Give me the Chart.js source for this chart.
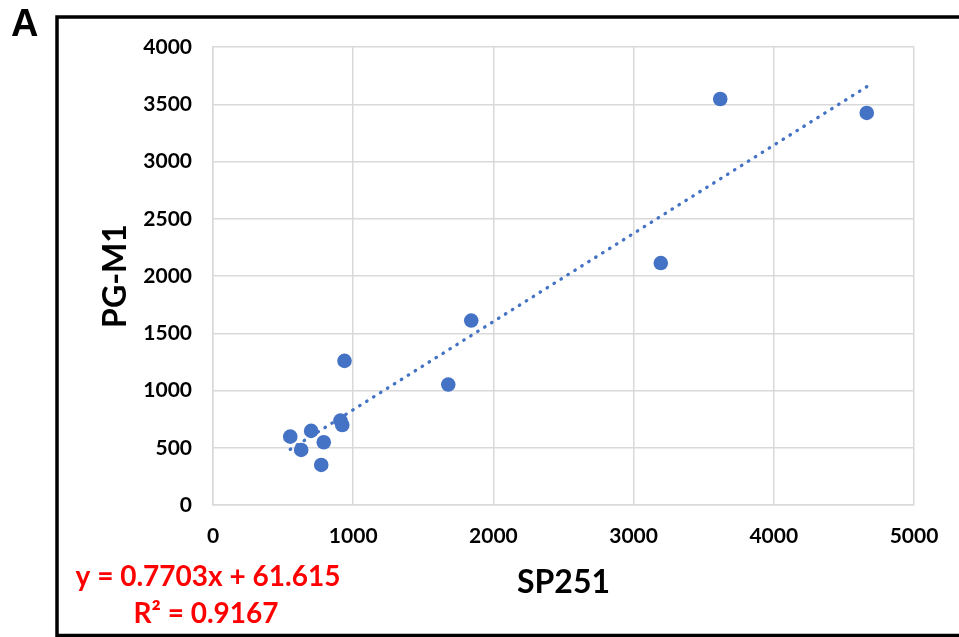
<!DOCTYPE html>
<html>
<head>
<meta charset="utf-8">
<title>PG-M1 vs SP251</title>
<script src="https://cdn.jsdelivr.net/npm/chart.js@4/dist/chart.umd.min.js"></script>
<style>
    html, body { margin: 0; padding: 0; background: #ffffff; }
    #wrap { width: 959px; height: 637px; position: relative; }
</style>
</head>
<body>
<div id="wrap"><canvas id="chart"></canvas></div>
<script>
// Data
const sp251 = [3618, 4663, 3194, 1842, 1678, 938, 909, 922, 700, 551, 629, 790, 772];
const pgM1 = [3546, 3424, 2113, 1611, 1052, 1259, 737, 699, 647, 597, 481, 548, 350];

// Linear trendline end points (as drawn in the picture)
const trendX = [551, 4663];
const trendY = [486, 3653];

const xTicks = [0, 1000, 2000, 3000, 4000, 5000];
const yTicks = [0, 500, 1000, 1500, 2000, 2500, 3000, 3500, 4000];

const equationText = 'y = 0.7703x + 61.615';
const r2Text = 'R² = 0.9167';
const panelLabel = 'A';

const blue = '#4472C4';
const gridColor = '#d9d9d9';
const fontFamily = 'Lato, "Open Sans", sans-serif';

// Frame, panel letter and regression text
const annotations = {
    id: 'annotations',
    afterDraw(chart) {
        const ctx = chart.ctx;
        ctx.save();

        // black frame, right side runs off the picture
        ctx.strokeStyle = '#000000';
        ctx.lineWidth = 3.5;
        ctx.beginPath();
        ctx.moveTo(965, 17);
        ctx.lineTo(57, 17);
        ctx.lineTo(57, 635.5);
        ctx.lineTo(965, 635.5);
        ctx.stroke();

        // panel letter
        ctx.fillStyle = '#000000';
        ctx.font = 'bold 38px "Liberation Sans", Arial, sans-serif';
        ctx.textAlign = 'left';
        ctx.textBaseline = 'alphabetic';
        ctx.fillText(panelLabel, 11, 36);

        // regression equation
        ctx.fillStyle = '#ff0000';
        ctx.font = 'bold 28px ' + fontFamily;
        ctx.textAlign = 'center';
        ctx.fillText(equationText, 208, 586);
        ctx.fillText(r2Text, 206, 623);

        ctx.restore();
    }
};

const tickFont = { family: fontFamily, size: 21, weight: 'bold' };
const titleFont = { family: fontFamily, size: 32, weight: 'bold', lineHeight: 1.2 };

const ctx = document.getElementById('chart').getContext('2d');

new Chart(ctx, {
    type: 'scatter',
    data: {
        datasets: [{
            type: 'line',
            label: 'Linear (PG-M1)',
            data: trendX.map((x, i) => ({ x: x, y: trendY[i] })),
            borderColor: blue,
            borderWidth: 3.3,
            borderDash: [0.5, 7.7],
            borderCapStyle: 'round',
            pointRadius: 0,
            fill: false,
            tension: 0
        }, {
            label: 'PG-M1',
            data: sp251.map((x, i) => ({ x: x, y: pgM1[i] })),
            backgroundColor: blue,
            borderColor: blue,
            borderWidth: 0,
            pointRadius: 7.3,
            pointHoverRadius: 7.3
        }]
    },
    options: {
        responsive: true,
        maintainAspectRatio: false,
        animation: false,
        events: [],
        layout: {
            padding: { left: 60, top: 47, right: 45, bottom: 0 }
        },
        plugins: {
            legend: { display: false },
            tooltip: { enabled: false }
        },
        scales: {
            x: {
                type: 'linear',
                min: xTicks[0],
                max: xTicks[xTicks.length - 1],
                afterBuildTicks: function(scale) {
                    scale.ticks = xTicks.map(v => ({ value: v }));
                },
                afterFit: function(scale) {
                    scale.height = 132;
                },
                grid: {
                    color: gridColor,
                    lineWidth: 1.5,
                    drawTicks: false
                },
                border: { color: gridColor, width: 1.5 },
                ticks: {
                    padding: 19,
                    color: '#000000',
                    font: tickFont,
                    callback: function(value) {
                        return String(value);
                    }
                },
                title: {
                    display: true,
                    text: 'SP251',
                    color: '#000000',
                    font: titleFont,
                    padding: { top: 0, bottom: 35 }
                }
            },
            y: {
                type: 'linear',
                min: yTicks[0],
                max: yTicks[yTicks.length - 1],
                afterBuildTicks: function(scale) {
                    scale.ticks = yTicks.map(v => ({ value: v }));
                },
                afterFit: function(scale) {
                    scale.width = 153;
                },
                grid: {
                    color: gridColor,
                    lineWidth: 1.5,
                    drawTicks: false
                },
                border: { color: gridColor, width: 1.5 },
                ticks: {
                    padding: 21,
                    color: '#000000',
                    font: tickFont,
                    callback: function(value) {
                        return String(value);
                    }
                },
                title: {
                    display: true,
                    text: 'PG-M1',
                    color: '#000000',
                    font: titleFont,
                    padding: { top: 36, bottom: 0 }
                }
            }
        }
    },
    plugins: [annotations]
});
</script>
</body>
</html>
